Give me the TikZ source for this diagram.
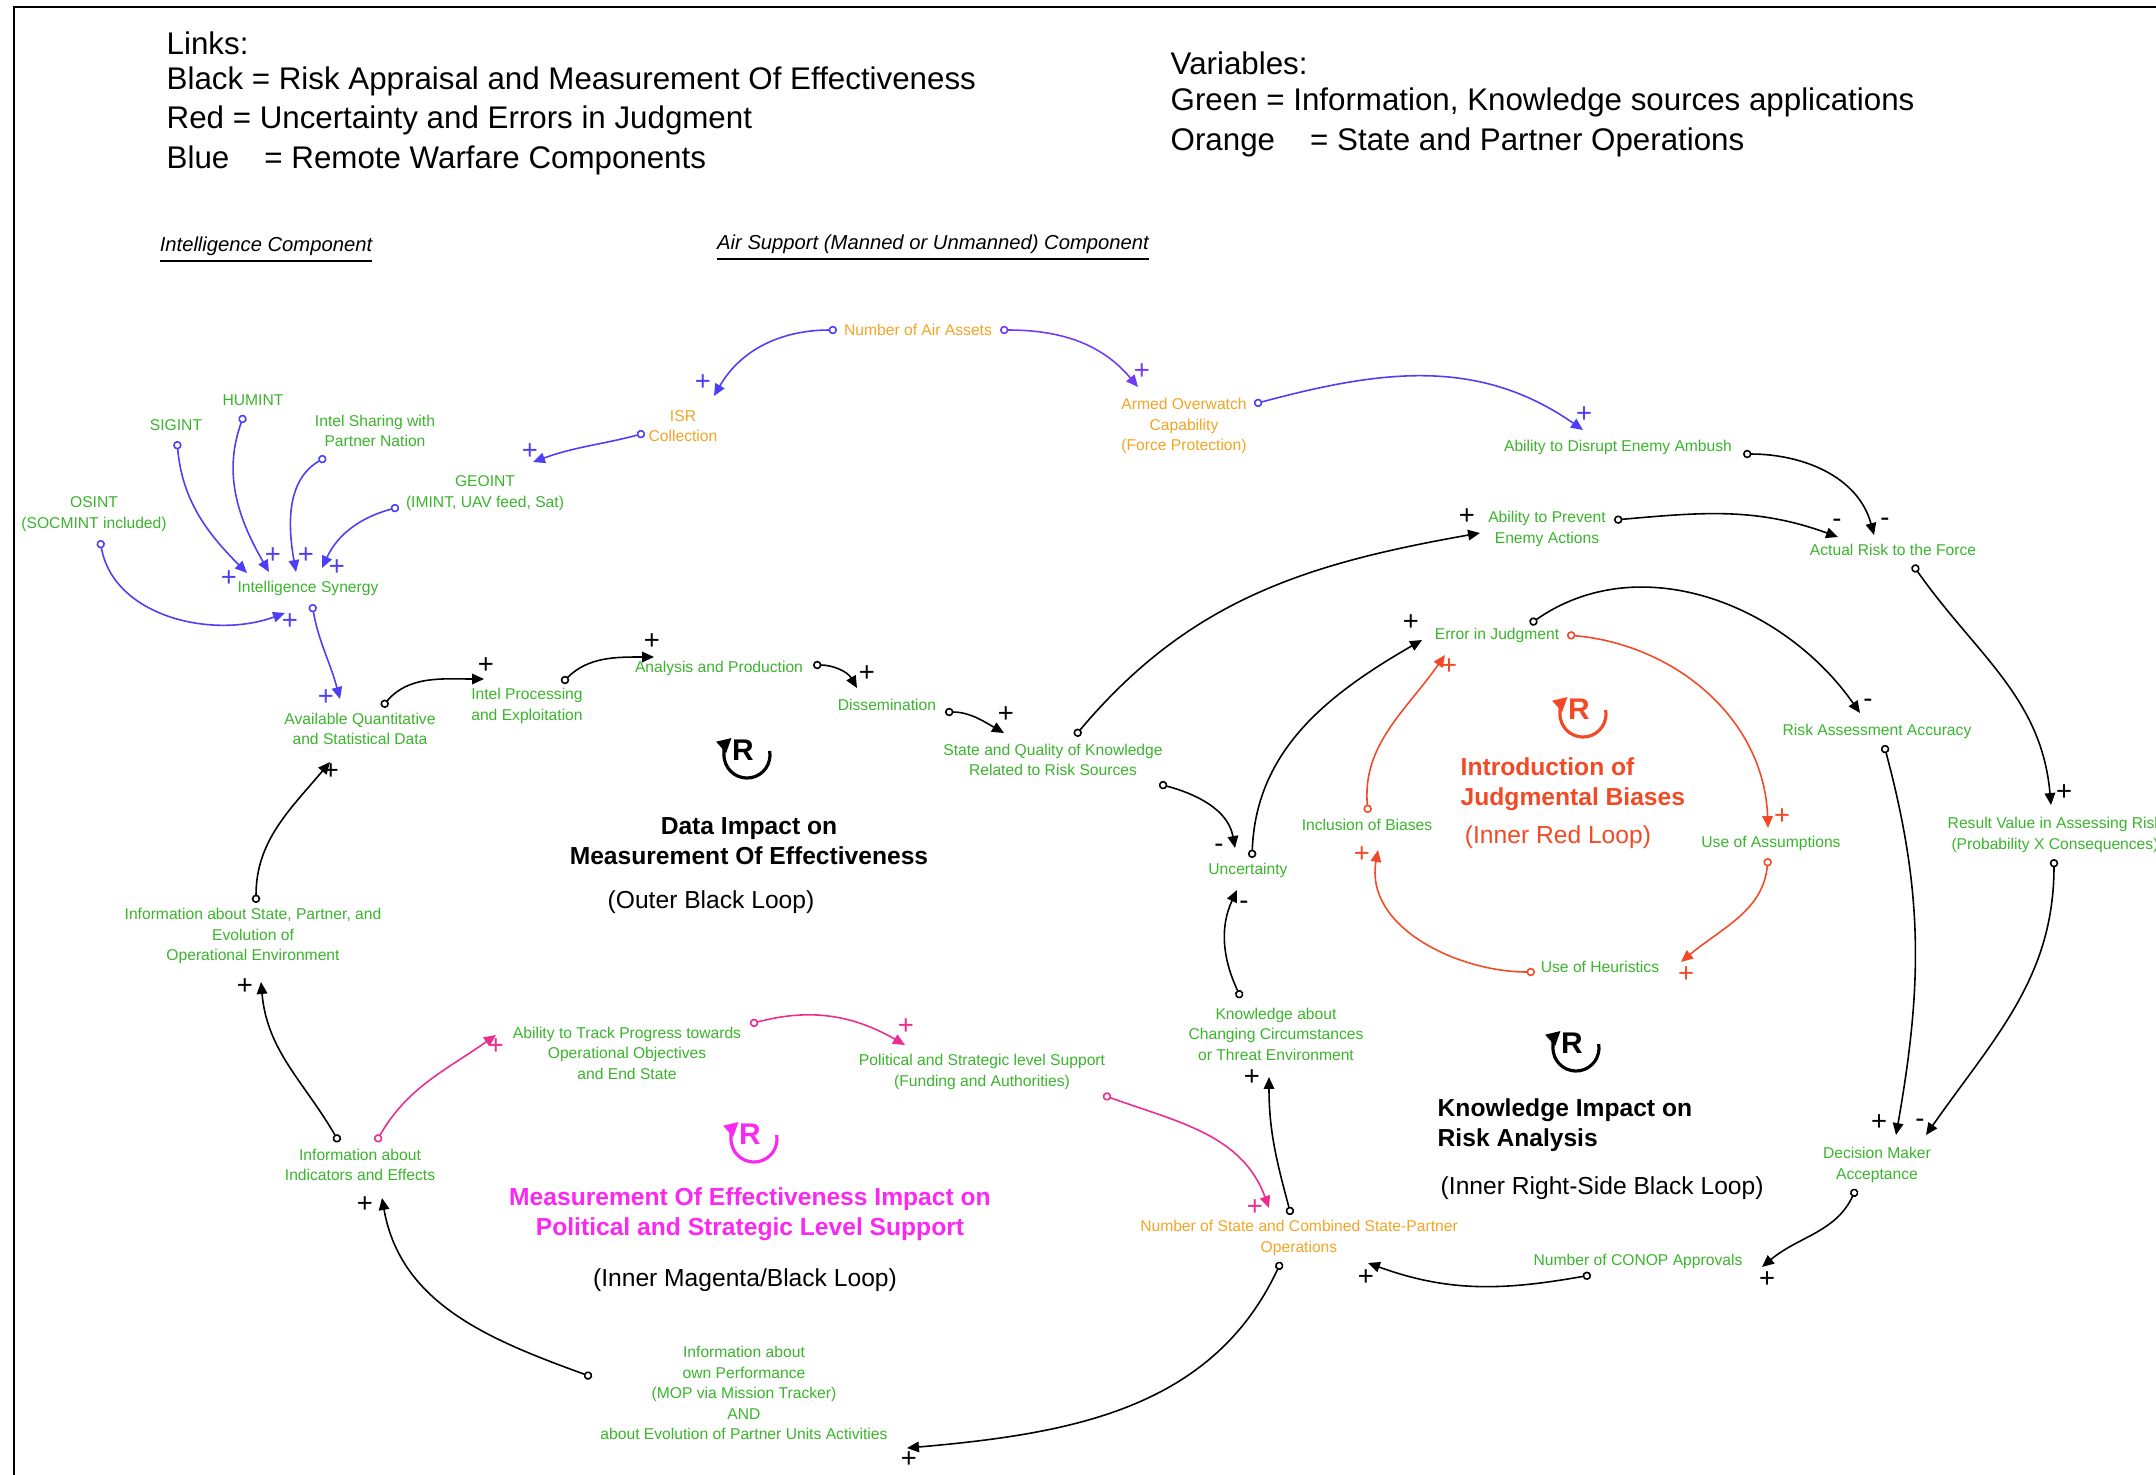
\documentclass[tikz,border=0pt]{standalone}
\usepackage{fontspec}
\setmainfont{Liberation Sans}
\usetikzlibrary{arrows.meta}

\definecolor{vargreen}{RGB}{58,180,44}
\definecolor{varorange}{RGB}{242,164,36}
\definecolor{linkblue}{RGB}{78,62,246}
\definecolor{linkviolet}{RGB}{112,58,250}
\definecolor{linkred}{RGB}{242,74,38}
\definecolor{linkpink}{RGB}{236,44,142}
\definecolor{titlemag}{RGB}{250,40,240}

\newcommand\labfont{\fontsize{4.45pt}{5.85pt}\selectfont}
\newcommand\legfont{\fontsize{8.9pt}{11pt}\selectfont}
\newcommand\hdfont{\fontsize{5.75pt}{7pt}\selectfont\itshape}
\newcommand\ttlfont{\fontsize{7pt}{8.7pt}\selectfont\bfseries}
\newcommand\subfont{\fontsize{7pt}{8.7pt}\selectfont}
\newcommand\sgnfont{\fontsize{7.8pt}{7.8pt}\selectfont}
\newcommand\rfont{\fontsize{8.5pt}{8.5pt}\selectfont\bfseries}

\tikzset{
  var/.style={text=vargreen, font=\labfont, align=center, inner sep=0pt},
  opvar/.style={var, text=varorange},
  legend/.style={font=\legfont, anchor=west, inner sep=0pt},
  heading/.style={font=\hdfont, inner sep=0pt},
  ttl/.style={font=\ttlfont, align=center, inner sep=0pt},
  subttl/.style={font=\subfont, inner sep=0pt},
  sgn/.style={font=\sgnfont, inner sep=0pt},
  lnk/.style={line width=0.45pt, arrows={Circle[length=2.4pt,fill=white]-Triangle[length=3.4pt,width=3pt]}},
  blk/.style={lnk, black},
  blu/.style={lnk, linkblue},
  vio/.style={lnk, linkviolet},
  rdl/.style={lnk, linkred},
  pkl/.style={lnk, linkpink},
}

% reinforcing-loop marker: name, position, colour
\newcommand\reinforcing[3]{%
  \node[font=\rfont, text=#3, inner sep=0pt] (#1) at (#2) {R};
  \draw[#3, line width=0.9pt, -{Triangle[length=4pt,width=4pt]}]
    (#1.center) ++(4,-5) ++(10:0.23cm) arc[start angle=10, end angle=-228, radius=0.23cm];}

\begin{document}
\begin{tikzpicture}[x=0.01cm, y=0.01cm]
\useasboundingbox (0,0) rectangle (2156,-1475);
\draw[line width=0.6pt] (14,-1500) -- (14,-7) -- (2200,-7);

% legends
\node[legend] (lg0) at (166,-43) {Links:};
\node[legend] (lg1) at (166,-81) {Black = Risk Appraisal and Measurement Of Effectiveness};
\node[legend] (lg2) at (166,-120) {Red = Uncertainty and Errors in Judgment};
\node[legend] (lg3) at (166,-160) {Blue\hspace{10pt}= Remote Warfare Components};
\node[legend] (lv0) at (1170,-63) {Variables:};
\node[legend] (lv1) at (1170,-102) {Green = Information, Knowledge sources applications};
\node[legend] (lv2) at (1170,-142) {Orange\hspace{10pt}= State and Partner Operations};

\node[heading] (hint) at (266,-250) {\underline{Intelligence Component}};
\node[heading] (hair) at (933,-248) {\underline{Air Support (Manned or Unmanned) Component}};

% variables
\node[var] (sigint) at (176,-425) {SIGINT};
\node[var] (humint) at (253,-400) {HUMINT};
\node[var] (share) at (375,-431) {Intel Sharing with\\Partner Nation};
\node[var] (osint) at (94,-514) {OSINT\\(SOCMINT included)};
\node[var] (geoint) at (485,-493) {GEOINT\\(IMINT, UAV feed, Sat)};
\node[var] (synergy) at (308,-588) {Intelligence Synergy};
\node[opvar] (isr) at (683,-426) {ISR\\Collection};
\node[opvar] (air) at (918,-330) {Number of Air Assets};
\node[opvar] (armed) at (1184,-426) {Armed Overwatch\\Capability\\(Force Protection)};
\node[var] (disrupt) at (1618,-447) {Ability to Disrupt Enemy Ambush};
\node[var] (prevent) at (1547,-529) {Ability to Prevent\\Enemy Actions};
\node[var] (risk) at (1893,-550) {Actual Risk to the Force};
\node[var] (avail) at (360,-729) {Available Quantitative\\and Statistical Data};
\node[var] (proc) at (527,-706) {Intel Processing\\and Exploitation};
\node[var] (anal) at (719,-668) {Analysis and Production};
\node[var] (diss) at (887,-705) {Dissemination};
\node[var] (sq) at (1053,-760) {State and Quality of Knowledge\\Related to Risk Sources};
\node[var] (err) at (1497,-635) {Error in Judgment};
\node[var] (raa) at (1877,-731) {Risk Assessment Accuracy};
\node[var] (rv) at (2055,-835) {Result Value in Assessing Risk\\(Probability X Consequences)};
\node[var] (bias) at (1367,-825) {Inclusion of Biases};
\node[var] (assum) at (1771,-843) {Use of Assumptions};
\node[var] (unc) at (1248,-870) {Uncertainty};
\node[var] (heur) at (1600,-967) {Use of Heuristics};
\node[var] (know) at (1276,-1034) {Knowledge about\\Changing Circumstances\\or Threat Environment};
\node[var] (infst) at (253,-936) {Information about State, Partner, and\\Evolution of\\Operational Environment};
\node[var] (track) at (627,-1053) {Ability to Track Progress towards\\Operational Objectives\\and End State};
\node[var] (pol) at (982,-1072) {Political and Strategic level Support\\(Funding and Authorities)};
\node[var] (ind) at (360,-1165) {Information about\\Indicators and Effects};
\node[var] (dma) at (1877,-1165) {Decision Maker\\Acceptance};
\node[opvar] (ops) at (1299,-1238) {Number of State and Combined State-Partner\\Operations};
\node[var] (conop) at (1638,-1261) {Number of CONOP Approvals};
\node[var] (perf) at (744,-1393) {Information about\\own Performance\\(MOP via Mission Tracker)\\AND\\about Evolution of Partner Units Activities};

% link ends
\coordinate (sigint-o) at (177,-441);
\coordinate (humint-o) at (244,-415);
\coordinate (share-o) at (326,-457);
\coordinate (geoint-o) at (399,-507);
\coordinate (osint-o) at (100,-540);
\coordinate (syn-i1) at (247,-573);
\coordinate (syn-i2) at (269,-572);
\coordinate (syn-i3) at (296,-572);
\coordinate (syn-i4) at (322,-568);
\coordinate (syn-i5) at (285,-613);
\coordinate (syn-o) at (312,-604);
\coordinate (geoint-i) at (533,-462);
\coordinate (isr-o) at (645,-433);
\coordinate (isr-i) at (714,-396);
\coordinate (air-o1) at (837,-330);
\coordinate (air-o2) at (1000,-330);
\coordinate (armed-i) at (1138,-387);
\coordinate (armed-o) at (1254,-404);
\coordinate (disrupt-i) at (1583,-430);
\coordinate (disrupt-o) at (1743,-454);
\coordinate (avail-i1) at (340,-699);
\coordinate (avail-i2) at (330,-762);
\coordinate (avail-o) at (382,-707);
\coordinate (proc-i) at (484,-679);
\coordinate (proc-o) at (562,-683);
\coordinate (anal-i) at (654,-657);
\coordinate (anal-o) at (813,-665);
\coordinate (diss-i) at (857,-688);
\coordinate (diss-o) at (945,-712);
\coordinate (sq-i) at (1004,-733);
\coordinate (sq-o1) at (1075,-736);
\coordinate (sq-o2) at (1159,-784);
\coordinate (prevent-i) at (1480,-533);
\coordinate (prevent-o) at (1614,-520);
\coordinate (unc-i1) at (1235,-848);
\coordinate (unc-i2) at (1237,-890);
\coordinate (unc-o) at (1252,-858);
\coordinate (err-i1) at (1422,-640);
\coordinate (err-i2) at (1445,-655);
\coordinate (err-o1) at (1530,-624);
\coordinate (err-o2) at (1567,-635);
\coordinate (risk-i1) at (1874,-535);
\coordinate (risk-i2) at (1838,-537);
\coordinate (risk-o) at (1913,-565);
\coordinate (rv-i) at (2051,-805);
\coordinate (rv-o) at (2054,-859);
\coordinate (raa-i) at (1860,-713);
\coordinate (raa-o) at (1884,-745);
\coordinate (assum-i) at (1768,-828);
\coordinate (assum-o) at (1768,-858);
\coordinate (heur-i) at (1681,-962);
\coordinate (heur-o) at (1535,-972);
\coordinate (bias-i) at (1378,-850);
\coordinate (bias-o) at (1368,-813);
\coordinate (know-o) at (1241,-998);
\coordinate (know-i) at (1269,-1077);
\coordinate (ops-i1) at (1269,-1208);
\coordinate (ops-o1) at (1291,-1215);
\coordinate (ops-o2) at (1281,-1262);
\coordinate (ops-i2) at (1368,-1263);
\coordinate (dma-i1) at (1896,-1135);
\coordinate (dma-i2) at (1926,-1135);
\coordinate (dma-o) at (1856,-1189);
\coordinate (conop-i) at (1762,-1267);
\coordinate (conop-o) at (1591,-1275);
\coordinate (perf-i) at (907,-1448);
\coordinate (perf-o) at (592,-1377);
\coordinate (ind-i) at (382,-1198);
\coordinate (ind-o1) at (339,-1142);
\coordinate (ind-o2) at (376,-1142);
\coordinate (infst-i) at (261,-982);
\coordinate (infst-o) at (256,-903);
\coordinate (track-i) at (496,-1035);
\coordinate (track-o) at (750,-1024);
\coordinate (pol-i) at (905,-1045);
\coordinate (pol-o) at (1103,-1095);

% intelligence and air support components (blue)
\draw[blu] (sigint-o) to[out=-85,in=135] (syn-i1);
\draw[blu] (humint-o) to[out=-110,in=120] (syn-i2);
\draw[blu] (share-o) to[out=-150,in=100] (syn-i3);
\draw[blu] (geoint-o) to[out=-165,in=65] (syn-i4);
\draw[blu] (osint-o) to[out=-80,in=200] (syn-i5);
\draw[blu] (syn-o) to[out=-80,in=105] (avail-i1);
\draw[blu] (isr-o) to[out=195,in=20] (geoint-i);
\draw[blu] (air-o1) to[out=180,in=60] (isr-i);
\draw[vio] (air-o2) to[out=0,in=130] (armed-i);
\draw[blu] (armed-o) to[out=15,in=145] (disrupt-i);
\node[sgn,linkblue] (p1) at (229,-579) {+};
\node[sgn,linkblue] (p2) at (273,-556) {+};
\node[sgn,linkblue] (p3) at (306,-556) {+};
\node[sgn,linkblue] (p4) at (337,-568) {+};
\node[sgn,linkblue] (p5) at (290,-622) {+};
\node[sgn,linkblue] (p6) at (326,-698) {+};
\node[sgn,linkblue] (p7) at (530,-452) {+};
\node[sgn,linkblue] (p8) at (703,-383) {+};
\node[sgn,linkviolet] (p9) at (1142,-372) {+};
\node[sgn,linkblue] (p10) at (1584,-415) {+};

% risk appraisal and measurement links (black)
\draw[blk] (avail-o) to[out=50,in=180] (proc-i);
\draw[blk] (proc-o) to[out=45,in=180] (anal-i);
\draw[blk] (anal-o) to[out=0,in=120] (diss-i);
\draw[blk] (diss-o) to[out=0,in=150] (sq-i);
\draw[blk] (sq-o1) to[out=50,in=190] (prevent-i);
\draw[blk] (sq-o2) to[out=-15,in=100] (unc-i1);
\draw[blk] (unc-o) to[out=88,in=210] (err-i1);
\draw[blk] (know-o) to[out=115,in=245] (unc-i2);
\draw[blk] (ops-o1) to[out=105,in=-90] (know-i);
\draw[blk] (disrupt-o) to[out=0,in=105] (risk-i1);
\draw[blk] (prevent-o) to[out=5,in=160] (risk-i2);
\draw[blk] (risk-o) to[out=-55,in=95] (rv-i);
\draw[blk] (err-o1) to[out=35,in=125] (raa-i);
\draw[blk] (raa-o) to[out=-75,in=80] (dma-i1);
\draw[blk] (rv-o) to[out=-90,in=55] (dma-i2);
\draw[blk] (dma-o) to[out=-115,in=40] (conop-i);
\draw[blk] (conop-o) to[out=190,in=-20] (ops-i2);
\draw[blk] (ops-o2) to[out=-115,in=5] (perf-i);
\draw[blk] (perf-o) to[out=160,in=-80] (ind-i);
\draw[blk] (ind-o1) to[out=120,in=-85] (infst-i);
\draw[blk] (infst-o) to[out=90,in=230] (avail-i2);
\node[sgn] (p11) at (486,-666) {+};
\node[sgn] (p12) at (652,-642) {+};
\node[sgn] (p13) at (867,-674) {+};
\node[sgn] (p14) at (1006,-715) {+};
\node[sgn] (p15) at (1467,-517) {+};
\node[sgn] (p16) at (1219,-848) {-};
\node[sgn] (p17) at (1411,-623) {+};
\node[sgn] (p18) at (1244,-905) {-};
\node[sgn] (p19) at (1252,-1078) {+};
\node[sgn] (p20) at (1885,-522) {-};
\node[sgn] (p21) at (1837,-523) {-};
\node[sgn] (p22) at (2064,-793) {+};
\node[sgn] (p23) at (1868,-703) {-};
\node[sgn] (p24) at (1879,-1123) {+};
\node[sgn] (p25) at (1920,-1123) {-};
\node[sgn] (p26) at (1767,-1280) {+};
\node[sgn] (p27) at (1366,-1278) {+};
\node[sgn] (p28) at (909,-1460) {+};
\node[sgn] (p29) at (365,-1205) {+};
\node[sgn] (p30) at (245,-987) {+};
\node[sgn] (p31) at (331,-772) {+};

% uncertainty and errors in judgment (red)
\draw[rdl] (err-o2) to[out=-5,in=92] (assum-i);
\draw[rdl] (assum-o) to[out=-95,in=40] (heur-i);
\draw[rdl] (heur-o) to[out=180,in=-100] (bias-i);
\draw[rdl] (bias-o) to[out=95,in=235] (err-i2);
\node[sgn,linkred] (p32) at (1782,-817) {+};
\node[sgn,linkred] (p33) at (1686,-975) {+};
\node[sgn,linkred] (p34) at (1362,-855) {+};
\node[sgn,linkred] (p35) at (1449,-667) {+};

% political support loop (magenta)
\draw[pkl] (ind-o2) to[out=60,in=215] (track-i);
\draw[pkl] (track-o) to[out=15,in=150] (pol-i);
\draw[pkl] (pol-o) to[out=-20,in=110] (ops-i1);
\node[sgn,linkpink] (p36) at (496,-1047) {+};
\node[sgn,linkpink] (p37) at (906,-1027) {+};
\node[sgn,linkpink] (p38) at (1255,-1208) {+};

% loop markers and titles
\reinforcing{rdata}{743,-750}{black}
\reinforcing{rred}{1579,-709}{linkred}
\reinforcing{rknow}{1572,-1043}{black}
\reinforcing{rmag}{750,-1134}{titlemag}

\node[ttl] (tdata) at (749,-841) {Data Impact on\\Measurement Of Effectiveness};
\node[subttl] (sdata) at (711,-902) {(Outer Black Loop)};
\node[ttl, text=linkred, align=left, anchor=west] (tred) at (1460,-784) {Introduction of\\Judgmental Biases};
\node[subttl, text=linkred] (sred) at (1558,-837) {(Inner Red Loop)};
\node[ttl, align=left, anchor=west] (tknow) at (1437,-1125) {Knowledge Impact on\\Risk Analysis};
\node[subttl, anchor=west] (sknow) at (1440,-1188) {(Inner Right-Side Black Loop)};
\node[ttl, text=titlemag] (tmag) at (750,-1214) {Measurement Of Effectiveness Impact on\\Political and Strategic Level Support};
\node[subttl] (smag) at (745,-1280) {(Inner Magenta/Black Loop)};
\end{tikzpicture}
\end{document}
